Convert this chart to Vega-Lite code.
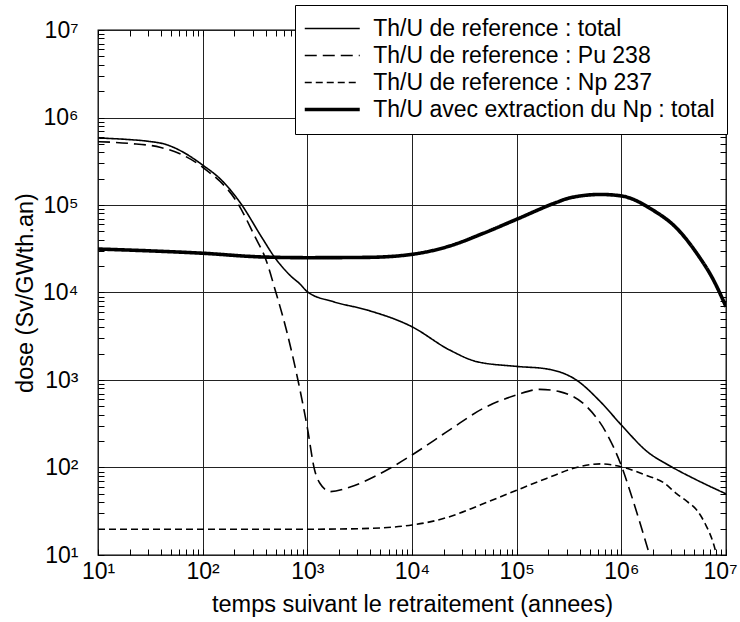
{
  "$schema": "https://vega.github.io/schema/vega-lite/v6.json",
  "width": 628,
  "height": 525,
  "autosize": {"type": "none"},
  "padding": {"left": 98, "top": 30, "right": 14, "bottom": 67},
  "background": "white",
  "config": {
    "view": {"stroke": "black", "strokeWidth": 1.3},
    "font": "Liberation Sans"
  },
  "data": {
    "values": [
      {"s": "Th/U de reference : total", "t": 10, "d": 583000},
      {"s": "Th/U de reference : total", "t": 19.5, "d": 560000},
      {"s": "Th/U de reference : total", "t": 30, "d": 535000},
      {"s": "Th/U de reference : total", "t": 45, "d": 490000},
      {"s": "Th/U de reference : total", "t": 63.1, "d": 410000},
      {"s": "Th/U de reference : total", "t": 100, "d": 286000},
      {"s": "Th/U de reference : total", "t": 151, "d": 193000},
      {"s": "Th/U de reference : total", "t": 234, "d": 102000},
      {"s": "Th/U de reference : total", "t": 363, "d": 43600},
      {"s": "Th/U de reference : total", "t": 490, "d": 25000},
      {"s": "Th/U de reference : total", "t": 708, "d": 15100},
      {"s": "Th/U de reference : total", "t": 851, "d": 12500},
      {"s": "Th/U de reference : total", "t": 1000, "d": 10200},
      {"s": "Th/U de reference : total", "t": 1778, "d": 7850},
      {"s": "Th/U de reference : total", "t": 3715, "d": 6310},
      {"s": "Th/U de reference : total", "t": 10000, "d": 4060},
      {"s": "Th/U de reference : total", "t": 22900, "d": 2200},
      {"s": "Th/U de reference : total", "t": 41700, "d": 1620},
      {"s": "Th/U de reference : total", "t": 100000, "d": 1430},
      {"s": "Th/U de reference : total", "t": 192800, "d": 1340},
      {"s": "Th/U de reference : total", "t": 371500, "d": 1000},
      {"s": "Th/U de reference : total", "t": 631000, "d": 565},
      {"s": "Th/U de reference : total", "t": 1000000, "d": 306},
      {"s": "Th/U de reference : total", "t": 1778000, "d": 151},
      {"s": "Th/U de reference : total", "t": 2884000, "d": 105},
      {"s": "Th/U de reference : total", "t": 5248000, "d": 72},
      {"s": "Th/U de reference : total", "t": 10000000, "d": 50},

      {"s": "Th/U de reference : Pu 238", "t": 10, "d": 530000},
      {"s": "Th/U de reference : Pu 238", "t": 20, "d": 505000},
      {"s": "Th/U de reference : Pu 238", "t": 39.8, "d": 455000},
      {"s": "Th/U de reference : Pu 238", "t": 100, "d": 270000},
      {"s": "Th/U de reference : Pu 238", "t": 219, "d": 102000},
      {"s": "Th/U de reference : Pu 238", "t": 316, "d": 43400},
      {"s": "Th/U de reference : Pu 238", "t": 398, "d": 24500},
      {"s": "Th/U de reference : Pu 238", "t": 501, "d": 10000},
      {"s": "Th/U de reference : Pu 238", "t": 631, "d": 3720},
      {"s": "Th/U de reference : Pu 238", "t": 813, "d": 1000},
      {"s": "Th/U de reference : Pu 238", "t": 1000, "d": 285},
      {"s": "Th/U de reference : Pu 238", "t": 1175, "d": 93},
      {"s": "Th/U de reference : Pu 238", "t": 1318, "d": 66},
      {"s": "Th/U de reference : Pu 238", "t": 1660, "d": 53},
      {"s": "Th/U de reference : Pu 238", "t": 2570, "d": 60},
      {"s": "Th/U de reference : Pu 238", "t": 5370, "d": 89.5},
      {"s": "Th/U de reference : Pu 238", "t": 10000, "d": 139},
      {"s": "Th/U de reference : Pu 238", "t": 22900, "d": 269},
      {"s": "Th/U de reference : Pu 238", "t": 47900, "d": 474},
      {"s": "Th/U de reference : Pu 238", "t": 100000, "d": 675},
      {"s": "Th/U de reference : Pu 238", "t": 166000, "d": 782},
      {"s": "Th/U de reference : Pu 238", "t": 257000, "d": 736},
      {"s": "Th/U de reference : Pu 238", "t": 468000, "d": 495},
      {"s": "Th/U de reference : Pu 238", "t": 724000, "d": 245},
      {"s": "Th/U de reference : Pu 238", "t": 1000000, "d": 105},
      {"s": "Th/U de reference : Pu 238", "t": 1288000, "d": 42.6},
      {"s": "Th/U de reference : Pu 238", "t": 1803000, "d": 11.4},
      {"s": "Th/U de reference : Pu 238", "t": 1862000, "d": 10},

      {"s": "Th/U de reference : Np 237", "t": 10, "d": 19.7},
      {"s": "Th/U de reference : Np 237", "t": 100, "d": 19.7},
      {"s": "Th/U de reference : Np 237", "t": 1000, "d": 19.7},
      {"s": "Th/U de reference : Np 237", "t": 3160, "d": 20},
      {"s": "Th/U de reference : Np 237", "t": 10000, "d": 22},
      {"s": "Th/U de reference : Np 237", "t": 22900, "d": 27.4},
      {"s": "Th/U de reference : Np 237", "t": 44700, "d": 37.2},
      {"s": "Th/U de reference : Np 237", "t": 100000, "d": 55},
      {"s": "Th/U de reference : Np 237", "t": 192800, "d": 75},
      {"s": "Th/U de reference : Np 237", "t": 398000, "d": 102},
      {"s": "Th/U de reference : Np 237", "t": 631000, "d": 110},
      {"s": "Th/U de reference : Np 237", "t": 1000000, "d": 102},
      {"s": "Th/U de reference : Np 237", "t": 1738000, "d": 81},
      {"s": "Th/U de reference : Np 237", "t": 2512000, "d": 67.6},
      {"s": "Th/U de reference : Np 237", "t": 3390000, "d": 50},
      {"s": "Th/U de reference : Np 237", "t": 4266000, "d": 40.7},
      {"s": "Th/U de reference : Np 237", "t": 5248000, "d": 32.7},
      {"s": "Th/U de reference : Np 237", "t": 6310000, "d": 22.9},
      {"s": "Th/U de reference : Np 237", "t": 7586000, "d": 13.5},
      {"s": "Th/U de reference : Np 237", "t": 8128000, "d": 10},

      {"s": "Th/U avec extraction du Np : total", "t": 10, "d": 31400},
      {"s": "Th/U avec extraction du Np : total", "t": 31.6, "d": 29900},
      {"s": "Th/U avec extraction du Np : total", "t": 100, "d": 28100},
      {"s": "Th/U avec extraction du Np : total", "t": 363, "d": 25500},
      {"s": "Th/U avec extraction du Np : total", "t": 1000, "d": 25000},
      {"s": "Th/U avec extraction du Np : total", "t": 3715, "d": 25200},
      {"s": "Th/U avec extraction du Np : total", "t": 10000, "d": 27300},
      {"s": "Th/U avec extraction du Np : total", "t": 22900, "d": 34000},
      {"s": "Th/U avec extraction du Np : total", "t": 47900, "d": 47400},
      {"s": "Th/U avec extraction du Np : total", "t": 100000, "d": 68700},
      {"s": "Th/U avec extraction du Np : total", "t": 240000, "d": 107000},
      {"s": "Th/U avec extraction du Np : total", "t": 316000, "d": 120000},
      {"s": "Th/U avec extraction du Np : total", "t": 631000, "d": 132000},
      {"s": "Th/U avec extraction du Np : total", "t": 1000000, "d": 127000},
      {"s": "Th/U avec extraction du Np : total", "t": 1995000, "d": 87700},
      {"s": "Th/U avec extraction du Np : total", "t": 3388000, "d": 54100},
      {"s": "Th/U avec extraction du Np : total", "t": 5248000, "d": 28100},
      {"s": "Th/U avec extraction du Np : total", "t": 7586000, "d": 13900},
      {"s": "Th/U avec extraction du Np : total", "t": 10000000, "d": 6890}
    ]
  },
  "layer": [
    {
      "mark": {"type": "line", "interpolate": "monotone", "color": "black", "clip": true},
      "encoding": {
        "x": {
          "field": "t", "type": "quantitative",
          "scale": {"type": "log", "domain": [10, 10000000], "nice": false},
          "axis": {
            "orient": "bottom", "offset": -6,
            "values": [10,20,30,40,50,60,70,80,90,100,200,300,400,500,600,700,800,900,1000,2000,3000,4000,5000,6000,7000,8000,9000,10000,20000,30000,40000,50000,60000,70000,80000,90000,100000,200000,300000,400000,500000,600000,700000,800000,900000,1000000,2000000,3000000,4000000,5000000,6000000,7000000,8000000,9000000,10000000],
            "labelExpr": "abs(log(datum.value)/LN10 - round(log(datum.value)/LN10)) < 0.001 ? '10' + ['⁰','¹','²','³','⁴','⁵','⁶','⁷'][round(log(datum.value)/LN10)] : ''",
            "labelOverlap": false, "labelBound": false, "labelFlush": false,
            "labelOffset": {"condition": {"test": "datum.value > 9500000", "value": -6}, "value": 0},
            "labelFont": "Liberation Sans", "labelFontSize": 23, "labelColor": "black", "labelPadding": 5,
            "domain": false,
            "ticks": true, "tickColor": "black", "tickWidth": 1, "tickSize": 6,
            "grid": true, "gridColor": "#222222", "gridWidth": 1,
            "gridOpacity": {"condition": {"test": "abs(log(datum.value)/LN10 - round(log(datum.value)/LN10)) < 0.001", "value": 1}, "value": 0},
            "title": "temps suivant le retraitement (annees)",
            "titleFont": "Liberation Sans", "titleFontSize": 23.5, "titleFontWeight": "normal", "titleColor": "black", "titlePadding": 9
          }
        },
        "y": {
          "field": "d", "type": "quantitative",
          "scale": {"type": "log", "domain": [10, 10000000], "nice": false},
          "axis": {
            "orient": "left", "offset": -6,
            "values": [10,20,30,40,50,60,70,80,90,100,200,300,400,500,600,700,800,900,1000,2000,3000,4000,5000,6000,7000,8000,9000,10000,20000,30000,40000,50000,60000,70000,80000,90000,100000,200000,300000,400000,500000,600000,700000,800000,900000,1000000,2000000,3000000,4000000,5000000,6000000,7000000,8000000,9000000,10000000],
            "labelExpr": "abs(log(datum.value)/LN10 - round(log(datum.value)/LN10)) < 0.001 ? '10' + ['⁰','¹','²','³','⁴','⁵','⁶','⁷'][round(log(datum.value)/LN10)] : ''",
            "labelOverlap": false, "labelBound": false, "labelFlush": false,
            "labelFont": "Liberation Sans", "labelFontSize": 23, "labelColor": "black", "labelPadding": 20,
            "domain": false,
            "ticks": true, "tickColor": "black", "tickWidth": 1, "tickSize": 6,
            "grid": true, "gridColor": "#222222", "gridWidth": 1,
            "gridOpacity": {"condition": {"test": "abs(log(datum.value)/LN10 - round(log(datum.value)/LN10)) < 0.001", "value": 1}, "value": 0},
            "title": "dose (Sv/GWth.an)",
            "titleFont": "Liberation Sans", "titleFontSize": 23.5, "titleFontWeight": "normal", "titleColor": "black", "titlePadding": 5
          }
        },
        "strokeDash": {
          "field": "s", "type": "nominal",
          "sort": ["Th/U de reference : total", "Th/U de reference : Pu 238", "Th/U de reference : Np 237", "Th/U avec extraction du Np : total"],
          "scale": {
            "domain": ["Th/U de reference : total", "Th/U de reference : Pu 238", "Th/U de reference : Np 237", "Th/U avec extraction du Np : total"],
            "range": [[1, 0], [12, 6], [7, 4], [1, 0]]
          },
          "legend": {
            "title": null, "orient": "none", "legendX": 197, "legendY": -25,
            "direction": "vertical", "symbolType": "M-2,0L2,0", "symbolSize": 756,
            "symbolOffset": 13.75, "symbolStrokeColor": "black",
            "labelFont": "Liberation Sans", "labelFontSize": 23, "labelColor": "black",
            "labelLimit": 600, "labelOffset": 29.5, "padding": 12, "rowPadding": 3,
            "strokeColor": "black", "fillColor": "white",
            "encode": {
              "symbols": {
                "update": {
                  "strokeWidth": {"signal": "datum.value === 'Th/U avec extraction du Np : total' ? 3.6 : 1.6"}
                }
              }
            }
          }
        },
        "strokeWidth": {
          "condition": {"test": "datum.s === 'Th/U avec extraction du Np : total'", "value": 3.6},
          "value": 1.6
        }
      }
    },
    {
      "mark": {"type": "point", "opacity": 0},
      "encoding": {
        "x": {
          "field": "t", "type": "quantitative",
          "axis": {
            "orient": "top", "offset": -6,
            "values": [10,20,30,40,50,60,70,80,90,100,200,300,400,500,600,700,800,900,1000,2000,3000,4000,5000,6000,7000,8000,9000,10000,20000,30000,40000,50000,60000,70000,80000,90000,100000,200000,300000,400000,500000,600000,700000,800000,900000,1000000,2000000,3000000,4000000,5000000,6000000,7000000,8000000,9000000,10000000],
            "labels": false, "domain": false, "grid": false, "title": null,
            "ticks": true, "tickColor": "black", "tickWidth": 1, "tickSize": 6
          }
        },
        "y": {
          "field": "d", "type": "quantitative",
          "axis": {
            "orient": "right", "offset": -6,
            "values": [10,20,30,40,50,60,70,80,90,100,200,300,400,500,600,700,800,900,1000,2000,3000,4000,5000,6000,7000,8000,9000,10000,20000,30000,40000,50000,60000,70000,80000,90000,100000,200000,300000,400000,500000,600000,700000,800000,900000,1000000,2000000,3000000,4000000,5000000,6000000,7000000,8000000,9000000,10000000],
            "labels": false, "domain": false, "grid": false, "title": null,
            "ticks": true, "tickColor": "black", "tickWidth": 1, "tickSize": 6
          }
        }
      }
    }
  ]
}
